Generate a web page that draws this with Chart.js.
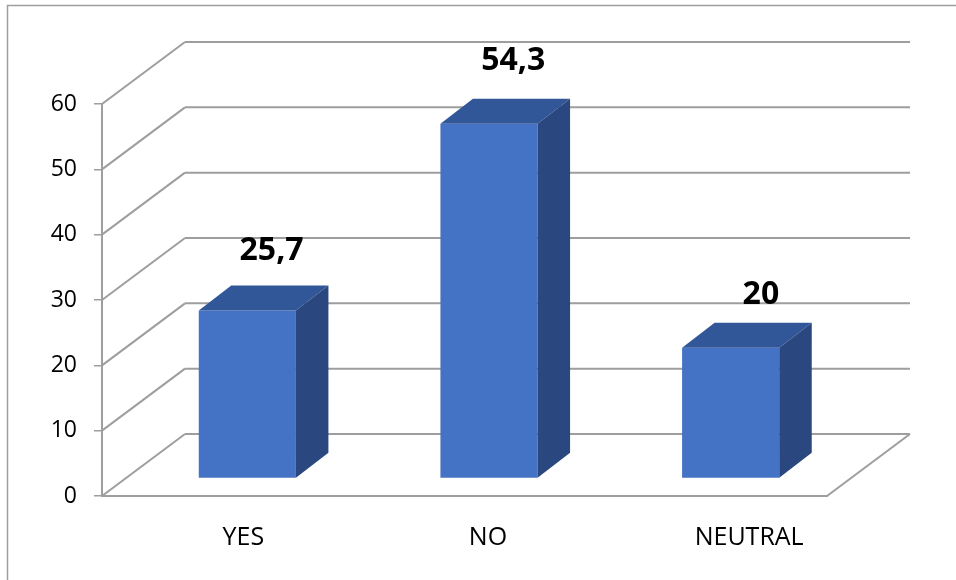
<!DOCTYPE html>
<html>
<head>
<meta charset="utf-8">
<style>
  html, body { margin: 0; padding: 0; background: #fff; }
  canvas { display: block; }
</style>
<script src="https://cdn.jsdelivr.net/npm/chart.js@4"></script>
</head>
<body>
<canvas id="answerChart" width="956" height="580"></canvas>
<script>
const categories = ['YES', 'NO', 'NEUTRAL'];
const percentages = [25.7, 54.3, 20];
const valueLabels = ['25,7', '54,3', '20'];
const yTicks = [0, 10, 20, 30, 40, 50, 60];

const GRID = '#9e9e9e';
const FONT = '"Open Sans", sans-serif';
// room depth and how far the bars stand in from the front edge
const DEPTH = { x: 83, y: -62 };
const BAR_SHIFT = { x: 24.5, y: -17.5 };
const BAR_DEPTH = { x: 32.5, y: -25 };
// hand placed nudges, same order as the categories
const VALUE_NUDGE = [[8, -60], [8, -63], [14, -53]];
const CATEGORY_NUDGE = [20.5, 23.5, 43];

const line = (ctx, pts, width) => {
  ctx.beginPath();
  pts.forEach((p, i) => i ? ctx.lineTo(p[0], p[1]) : ctx.moveTo(p[0], p[1]));
  ctx.lineWidth = width;
  ctx.strokeStyle = GRID;
  ctx.stroke();
};

const poly = (ctx, pts, color) => {
  ctx.beginPath();
  pts.forEach((p, i) => i ? ctx.lineTo(p[0], p[1]) : ctx.moveTo(p[0], p[1]));
  ctx.closePath();
  ctx.fillStyle = color;
  ctx.fill();
};

const room3d = {
  id: 'room3d',
  beforeDraw(chart) {
    const { ctx, width, height } = chart;
    ctx.save();
    ctx.fillStyle = '#fff';
    ctx.fillRect(0, 0, width, height);
    // picture frame, only top and left show
    line(ctx, [[7.5, height], [7.5, 5.5], [width, 5.5]], 1.5);
    ctx.restore();
  },
  beforeDatasetsDraw(chart) {
    const { ctx, chartArea } = chart;
    const y = chart.scales.y;
    const left = chartArea.left;
    const right = chartArea.right;
    ctx.save();
    yTicks.forEach(t => {
      const py = y.getPixelForValue(t);
      line(ctx, [[left, py], [left + DEPTH.x, py + DEPTH.y]], 2);
      line(ctx, [[left + DEPTH.x, py + DEPTH.y], [right + DEPTH.x, py + DEPTH.y]], 2);
    });
    // floor, right hand edge
    const floor = y.getPixelForValue(0);
    line(ctx, [[right, floor], [right + DEPTH.x, floor + DEPTH.y]], 2);
    ctx.restore();
    // the bars stand further back than the axis
    ctx.save();
    ctx.translate(BAR_SHIFT.x, BAR_SHIFT.y);
  },
  afterDatasetsDraw(chart) {
    const { ctx } = chart;
    chart.getDatasetMeta(0).data.forEach(bar => {
      const l = bar.x - bar.width / 2;
      const r = bar.x + bar.width / 2;
      const dx = BAR_DEPTH.x;
      const dy = BAR_DEPTH.y;
      poly(ctx, [[l, bar.y], [r, bar.y], [r + dx, bar.y + dy], [l + dx, bar.y + dy]], '#325798');
      poly(ctx, [[r, bar.y], [r + dx, bar.y + dy], [r + dx, bar.base + dy], [r, bar.base]], '#2a487f');
    });
    ctx.restore();
  },
  afterDraw(chart) {
    const { ctx } = chart;
    const x = chart.scales.x;
    ctx.save();
    ctx.textAlign = 'center';
    ctx.textBaseline = 'middle';
    ctx.fillStyle = '#000';
    ctx.font = 'bold 32px ' + FONT;
    chart.getDatasetMeta(0).data.forEach((bar, i) => {
      ctx.fillText(valueLabels[i],
        bar.x + BAR_SHIFT.x + BAR_DEPTH.x / 2 + VALUE_NUDGE[i][0],
        bar.y + BAR_SHIFT.y + VALUE_NUDGE[i][1]);
    });
    ctx.font = '25px ' + FONT;
    categories.forEach((c, i) => {
      ctx.fillText(c, x.getPixelForValue(i) + CATEGORY_NUDGE[i], 538);
    });
    ctx.restore();
  }
};

new Chart(document.getElementById('answerChart').getContext('2d'), {
  type: 'bar',
  data: {
    labels: categories,
    datasets: [{
      data: percentages,
      backgroundColor: '#4472c4',
      borderWidth: 0,
      barPercentage: 0.402,
      categoryPercentage: 1
    }]
  },
  options: {
    responsive: false,
    animation: false,
    layout: { padding: { top: 104, right: 129, left: 0, bottom: 0 } },
    plugins: { legend: { display: false }, tooltip: { enabled: false } },
    scales: {
      x: {
        afterFit: s => { s.height = 84; },
        grid: { display: false },
        border: { color: GRID, width: 2 },
        ticks: { display: false }
      },
      y: {
        min: 0,
        max: 60,
        afterFit: s => { s.width = 102; },
        afterBuildTicks: s => { s.ticks = yTicks.map(v => ({ value: v })); },
        grid: { drawOnChartArea: false, color: GRID, lineWidth: 1.5, tickLength: 8 },
        border: { color: GRID, width: 2 },
        ticks: { color: '#000', padding: 17, font: { family: '"Open Sans", sans-serif', size: 23 } }
      }
    }
  },
  plugins: [room3d]
});
</script>
</body>
</html>
